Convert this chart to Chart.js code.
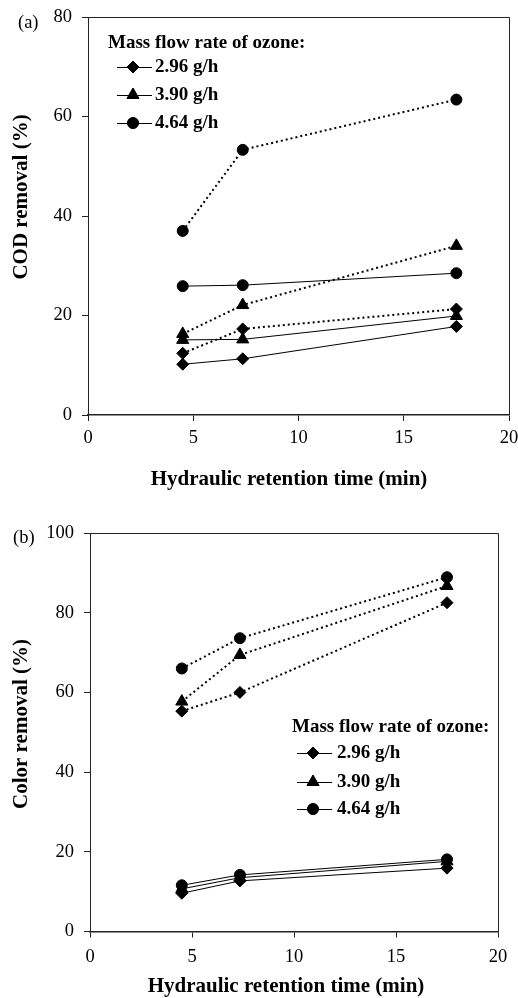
<!DOCTYPE html>
<html>
<head>
<meta charset="utf-8">
<script src="https://cdn.jsdelivr.net/npm/chart.js@4.4.1/dist/chart.umd.min.js"></script>
<style>
  html, body { margin: 0; padding: 0; background: #fff; }
  .wrap { position: absolute; left: 0; width: 518px; height: 498px; }
  canvas { display: block; }
</style>
</head>
<body>
<div class="wrap" style="top:0"><canvas id="cA" width="518" height="498"></canvas></div>
<div class="wrap" style="top:500px"><canvas id="cB" width="518" height="498"></canvas></div>
<script>
// ---- data ----
const hrt = [4.5, 7.35, 17.5];          // hydraulic retention time (min)
const xTicks = [0, 5, 10, 15, 20];
const yTicksA = [0, 20, 40, 60, 80];
const yTicksB = [0, 20, 40, 60, 80, 100];
const rateLabels = ['2.96 g/h', '3.90 g/h', '4.64 g/h'];

// (a) COD removal (%)
const codSolid296  = [10.2, 11.3, 17.8];
const codDotted296 = [12.4, 17.3, 21.3];
const codSolid390  = [15.1, 15.2, 19.9];
const codDotted390 = [16.3, 22.1, 34.0];
const codSolid464  = [25.9, 26.1, 28.5];
const codDotted464 = [37.0, 53.3, 63.4];

// (b) Color removal (%)
const colSolid296  = [9.6, 12.7, 15.9];
const colDotted296 = [55.3, 60.0, 82.5];
const colSolid390  = [10.7, 13.5, 17.6];
const colDotted390 = [57.7, 69.4, 86.7];
const colSolid464  = [11.6, 14.2, 18.1];
const colDotted464 = [66.0, 73.6, 88.9];

const SERIF = '"Liberation Serif", "Times New Roman", serif';
const styles = ['rectRot', 'triangle', 'circle'];
const radii = [6, 7, 5.5];

function ds(label, vals, idx, dotted) {
  return {
    label: label,
    data: vals.map((v, i) => ({ x: hrt[i], y: v })),
    borderColor: '#000',
    backgroundColor: '#000',
    borderWidth: dotted ? 2 : 1,
    borderDash: dotted ? [2, 3] : [],
    pointStyle: styles[idx],
    pointRadius: radii[idx],
    pointBackgroundColor: '#000',
    pointBorderColor: '#000',
    pointBorderWidth: 1,
    tension: 0,
    fill: false
  };
}

const decor = {
  id: 'decor',
  afterDraw(chart, args, o) {
    const ctx = chart.ctx, a = chart.chartArea;
    ctx.save();
    ctx.strokeStyle = '#222';
    ctx.lineWidth = 1;
    ctx.setLineDash([]);
    ctx.beginPath();
    ctx.moveTo(a.left, a.top + 0.5);
    ctx.lineTo(a.right + 0.5, a.top + 0.5);
    ctx.lineTo(a.right + 0.5, a.bottom);
    ctx.stroke();
    ctx.fillStyle = '#000';
    ctx.font = '18.5px ' + SERIF;
    ctx.textAlign = 'left';
    ctx.textBaseline = 'middle';
    ctx.fillText(o.panel, o.panelX, o.panelY);
    ctx.font = 'bold 21px ' + SERIF;
    ctx.save();
    ctx.translate(o.yTitleX, o.yTitleY);
    ctx.rotate(-Math.PI / 2);
    ctx.textAlign = 'center';
    ctx.textBaseline = 'middle';
    ctx.fillText(o.yTitle, 0, 0);
    ctx.restore();
    ctx.textAlign = 'center';
    ctx.textBaseline = 'alphabetic';
    ctx.fillText('Hydraulic retention time (min)', o.xTitleX, o.xTitleY);
    const L = o.legend;
    ctx.font = 'bold 19px ' + SERIF;
    ctx.textAlign = 'left';
    ctx.textBaseline = 'middle';
    ctx.fillText('Mass flow rate of ozone:', L.headX, L.headY);
    rateLabels.forEach((t, i) => {
      const y = L.itemY[i];
      ctx.strokeStyle = '#000';
      ctx.lineWidth = 1;
      ctx.beginPath();
      ctx.moveTo(L.lineX1, y + 0.5);
      ctx.lineTo(L.lineX2, y + 0.5);
      ctx.stroke();
      Chart.helpers.drawPoint(ctx, { pointStyle: styles[i], radius: radii[i], borderWidth: 1, rotation: 0 }, L.markX, y);
      ctx.fillStyle = '#000';
      ctx.fill();
      ctx.fillText(t, L.textX, y);
    });
    ctx.restore();
  }
};

function makeChart(id, datasets, yMax, yTicks, geom, decorOpts) {
  return new Chart(document.getElementById(id), {
    type: 'line',
    data: { datasets: datasets },
    plugins: [decor],
    options: {
      responsive: false,
      animation: false,
      devicePixelRatio: 1,
      layout: { padding: { top: geom.top, right: geom.right, left: 0, bottom: 0 } },
      plugins: { legend: { display: false }, tooltip: { enabled: false }, decor: decorOpts },
      scales: {
        x: {
          type: 'linear', min: 0, max: 20,
          afterBuildTicks: s => { s.ticks = xTicks.map(v => ({ value: v })); },
          afterFit: s => { s.height = geom.xh; s.paddingLeft = 0; s.paddingRight = 0; },
          grid: { drawOnChartArea: false, drawTicks: true, tickLength: 6, color: '#222' },
          border: { display: true, color: '#222', width: 1.5 },
          ticks: { color: '#000', font: { family: SERIF, size: 18.5 }, padding: geom.xpad, maxRotation: 0 }
        },
        y: {
          type: 'linear', min: 0, max: yMax,
          afterBuildTicks: s => { s.ticks = yTicks.map(v => ({ value: v })); },
          afterFit: s => { s.width = geom.yw; s.paddingTop = 0; s.paddingBottom = 0; },
          grid: { drawOnChartArea: false, drawTicks: true, tickLength: 6, color: '#222' },
          border: { display: true, color: '#222', width: 1 },
          ticks: { color: '#000', font: { family: SERIF, size: 18.5 }, padding: 10 }
        }
      }
    }
  });
}

makeChart('cA', [
  ds('2.96 g/h', codSolid296, 0, false),
  ds('2.96 g/h dotted', codDotted296, 0, true),
  ds('3.90 g/h', codSolid390, 1, false),
  ds('3.90 g/h dotted', codDotted390, 1, true),
  ds('4.64 g/h', codSolid464, 2, false),
  ds('4.64 g/h dotted', codDotted464, 2, true)
], 80, yTicksA, { top: 17, right: 9, xh: 83, yw: 88, xpad: 6 }, {
  panel: '(a)', panelX: 18, panelY: 23,
  yTitle: 'COD removal (%)', yTitleX: 22, yTitleY: 197,
  xTitleX: 289, xTitleY: 485,
  legend: { headX: 108, headY: 43, itemY: [67, 95, 123], lineX1: 117, lineX2: 152, markX: 133, textX: 155 }
});

makeChart('cB', [
  ds('2.96 g/h', colSolid296, 0, false),
  ds('2.96 g/h dotted', colDotted296, 0, true),
  ds('3.90 g/h', colSolid390, 1, false),
  ds('3.90 g/h dotted', colDotted390, 1, true),
  ds('4.64 g/h', colSolid464, 2, false),
  ds('4.64 g/h dotted', colDotted464, 2, true)
], 100, yTicksB, { top: 33, right: 20, xh: 66.5, yw: 90, xpad: 9 }, {
  panel: '(b)', panelX: 13, panelY: 38,
  yTitle: 'Color removal (%)', yTitleX: 22, yTitleY: 224,
  xTitleX: 286, xTitleY: 492,
  legend: { headX: 292, headY: 227, itemY: [253, 282, 309], lineX1: 297, lineX2: 332, markX: 313, textX: 337 }
});
</script>
</body>
</html>
